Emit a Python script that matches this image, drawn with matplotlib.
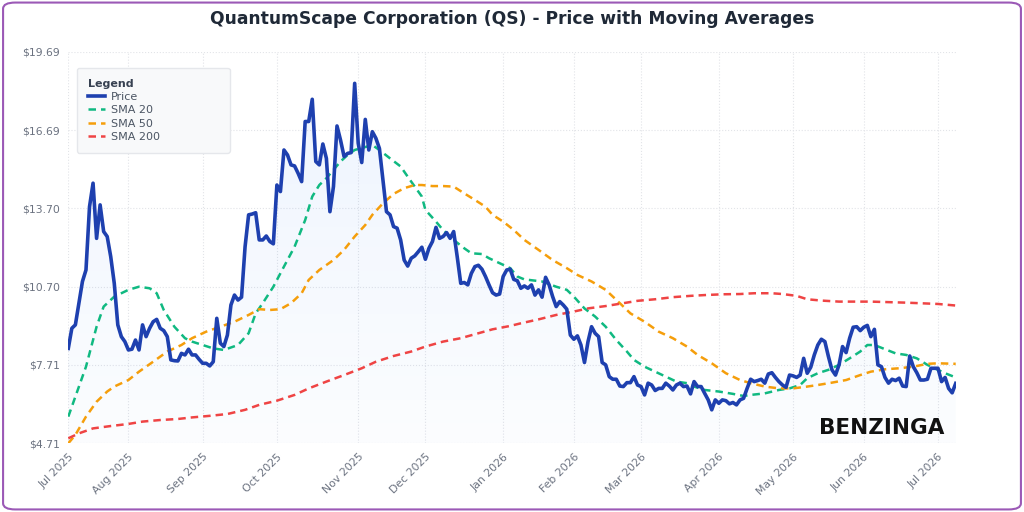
import numpy as np
import matplotlib.pyplot as plt
from matplotlib.patches import FancyBboxPatch

# trading-day index 0..251 (Jul 2025 - Jul 2026)
month_labels = ['Jul 2025', 'Aug 2025', 'Sep 2025', 'Oct 2025', 'Nov 2025', 'Dec 2025',
                'Jan 2026', 'Feb 2026', 'Mar 2026', 'Apr 2026', 'May 2026', 'Jun 2026', 'Jul 2026']
month_start_idx = [0, 17, 38, 59, 82, 101, 123, 143, 162, 184, 205, 225, 246]

price = [
    8.34, 9.11, 9.24, 10.07, 10.90, 11.34, 13.76, 14.66, 12.55, 13.83,
    12.81, 12.62, 11.85, 10.83, 9.24, 8.79, 8.60, 8.28, 8.31, 8.66,
    8.28, 9.24, 8.79, 9.11, 9.36, 9.45, 9.11, 9.02, 8.79, 7.90,
    7.87, 7.86, 8.15, 8.09, 8.31, 8.09, 8.09, 7.92, 7.77, 7.77,
    7.67, 7.83, 9.49, 8.54, 8.41, 8.85, 10.00, 10.38, 10.19, 10.30,
    12.23, 13.45, 13.48, 13.53, 12.49, 12.49, 12.64, 12.43, 12.34, 14.59,
    14.34, 15.93, 15.74, 15.36, 15.32, 15.04, 14.72, 17.02, 17.02, 17.87,
    15.49, 15.36, 16.16, 15.61, 13.57, 14.53, 16.85, 16.31, 15.68, 15.80,
    15.83, 18.48, 16.19, 15.45, 17.10, 15.93, 16.63, 16.38, 15.99, 14.78,
    13.57, 13.45, 13.00, 12.94, 12.49, 11.72, 11.49, 11.79, 11.88, 12.04,
    12.21, 11.75, 12.17, 12.43, 12.97, 12.55, 12.62, 12.77, 12.55, 12.81,
    11.85, 10.83, 10.86, 10.77, 11.21, 11.47, 11.52, 11.37, 11.09, 10.77,
    10.47, 10.38, 10.42, 11.09, 11.34, 11.37, 10.98, 10.93, 10.64, 10.73,
    10.64, 10.77, 10.38, 10.58, 10.30, 11.06, 10.77, 10.32, 9.94, 10.13,
    10.00, 9.84, 8.85, 8.69, 8.82, 8.47, 7.80, 8.60, 9.17, 8.92,
    8.79, 7.80, 7.71, 7.26, 7.16, 7.16, 6.90, 6.88, 7.03, 7.03,
    7.26, 6.94, 6.88, 6.56, 7.01, 6.94, 6.73, 6.81, 6.81, 7.01,
    6.90, 6.75, 6.94, 7.01, 6.88, 6.90, 6.60, 7.07, 6.88, 6.88,
    6.62, 6.37, 5.99, 6.37, 6.24, 6.37, 6.34, 6.22, 6.27, 6.18,
    6.37, 6.43, 6.81, 7.16, 7.07, 7.11, 7.16, 7.01, 7.36, 7.41,
    7.23, 7.07, 6.94, 6.85, 7.32, 7.29, 7.23, 7.32, 7.96, 7.39,
    7.62, 8.09, 8.47, 8.69, 8.60, 8.03, 7.52, 7.32, 7.71, 8.41,
    8.18, 8.73, 9.15, 9.17, 9.02, 9.15, 9.22, 8.79, 9.07, 7.71,
    7.64, 7.23, 7.01, 7.16, 7.11, 7.20, 6.90, 6.88, 8.05, 7.64,
    7.41, 7.13, 7.13, 7.16, 7.58, 7.58, 7.58, 7.07, 7.23, 6.81,
    6.64, 7.00,
]

sma20_idx = [0, 5, 8, 10, 13, 17, 20, 23, 25, 27, 30, 33, 35, 38, 41, 44, 48, 51, 53, 55,
             58, 61, 64, 67, 69, 71, 73, 75, 77, 79, 81, 86, 88, 91, 94, 96, 100, 101, 104, 106,
             109, 112, 114, 117, 119, 122, 125, 127, 129, 134, 138, 141, 143, 146, 149, 152, 155, 158, 160, 163,
             166, 169, 172, 175, 177, 180, 184, 188, 191, 193, 197, 201, 204, 207, 209, 212, 215, 218, 221, 224,
             226, 228, 231, 234, 237, 240, 243, 245, 248, 251]
sma20_val = [5.73, 7.64, 9.17, 9.94, 10.32, 10.58, 10.70, 10.64, 10.45, 9.81, 9.17, 8.73, 8.60, 8.47, 8.34, 8.28, 8.47, 8.92, 9.68, 10.07,
             10.70, 11.47, 12.23, 13.25, 14.15, 14.59, 14.85, 15.17, 15.49, 15.74, 15.93, 16.12, 15.93, 15.61, 15.30, 14.91, 14.15, 13.64, 13.19, 12.87,
             12.49, 12.17, 11.98, 11.95, 11.79, 11.60, 11.41, 11.09, 10.98, 10.90, 10.70, 10.58, 10.32, 9.87, 9.56, 9.17, 8.66, 8.22, 7.90, 7.64,
             7.45, 7.26, 7.07, 7.01, 6.88, 6.75, 6.69, 6.60, 6.52, 6.56, 6.62, 6.75, 6.81, 6.94, 7.20, 7.39, 7.52, 7.71, 7.96, 8.22,
             8.47, 8.47, 8.31, 8.15, 8.09, 7.96, 7.71, 7.58, 7.39, 7.23]

sma50_idx = [0, 2, 5, 8, 11, 13, 17, 20, 24, 28, 32, 35, 39, 43, 47, 51, 54, 57, 60, 63,
             66, 68, 71, 75, 78, 81, 84, 86, 89, 92, 95, 98, 100, 103, 106, 109, 112, 115, 118, 120,
             123, 126, 129, 133, 137, 141, 144, 148, 152, 156, 159, 163, 167, 171, 175, 178, 182, 186, 190, 193,
             197, 201, 205, 209, 212, 216, 220, 224, 227, 231, 235, 239, 243, 246, 251]
sma50_val = [4.71, 5.03, 5.73, 6.30, 6.69, 6.88, 7.13, 7.45, 7.83, 8.22, 8.47, 8.73, 8.98, 9.17, 9.36, 9.62, 9.84, 9.81, 9.84, 10.07,
             10.45, 10.96, 11.34, 11.72, 12.11, 12.62, 13.06, 13.45, 13.89, 14.25, 14.47, 14.59, 14.59, 14.55, 14.55, 14.53, 14.27, 14.02, 13.76, 13.45,
             13.19, 12.87, 12.49, 12.11, 11.72, 11.41, 11.15, 10.90, 10.58, 10.07, 9.68, 9.36, 8.98, 8.73, 8.41, 8.09, 7.77, 7.39, 7.13, 7.01,
             6.88, 6.81, 6.81, 6.88, 6.94, 7.03, 7.13, 7.32, 7.45, 7.54, 7.58, 7.64, 7.75, 7.77, 7.75]

sma200_idx = [0, 3, 7, 12, 17, 21, 26, 31, 35, 40, 45, 50, 54, 59, 64, 68, 73, 78, 83, 87,
              92, 97, 101, 106, 111, 116, 120, 125, 128, 133, 138, 143, 147, 152, 157, 161, 166, 171, 176, 180,
              185, 190, 194, 199, 202, 206, 209, 213, 218, 227, 237, 246, 251]
sma200_val = [4.90, 5.09, 5.28, 5.37, 5.45, 5.54, 5.60, 5.64, 5.70, 5.76, 5.83, 5.99, 6.18, 6.34, 6.56, 6.81, 7.07, 7.32, 7.58, 7.83,
              8.05, 8.22, 8.41, 8.60, 8.73, 8.92, 9.07, 9.20, 9.30, 9.45, 9.62, 9.75, 9.87, 9.96, 10.07, 10.16, 10.22, 10.30, 10.35, 10.38,
              10.41, 10.42, 10.45, 10.45, 10.42, 10.35, 10.22, 10.17, 10.13, 10.13, 10.09, 10.04, 9.98]

y_min, y_max = 4.71, 19.69

fig = plt.figure(figsize=(10.24, 5.12), dpi=100)
fig.patch.set_facecolor('white')
ax = fig.add_axes([0.0667, 0.1342, 0.8666, 0.7648])

x = np.arange(len(price))

# gradient fill under the price line
poly = ax.fill_between(x, price, y_min, color='none', lw=0)
grad = np.zeros((100, 2, 4))
grad[..., 0] = 59 / 255
grad[..., 1] = 130 / 255
grad[..., 2] = 246 / 255
grad[..., 3] = np.linspace(0.02, 0.09, 100)[:, None]
img = ax.imshow(grad, extent=[0, len(price) - 1, y_min, y_max], aspect='auto',
                origin='lower', zorder=1)
img.set_clip_path(poly.get_paths()[0], transform=ax.transData)

ax.plot(x, price, color='#1e40af', lw=2.6, label='Price', zorder=5)
ax.plot(sma20_idx, sma20_val, color='#10b981', lw=1.8, ls=(0, (3, 2)), label='SMA 20', zorder=4)
ax.plot(sma50_idx, sma50_val, color='#f59e0b', lw=1.8, ls=(0, (3, 2)), label='SMA 50', zorder=4)
ax.plot(sma200_idx, sma200_val, color='#ef4444', lw=1.8, ls=(0, (3, 2)), label='SMA 200', zorder=4)

ax.set_xlim(0, len(price) - 1)
ax.set_ylim(y_min, y_max)
yt = np.linspace(y_min, y_max, 6)
ax.set_yticks(yt)
ax.set_yticklabels(['${:.2f}'.format(v) for v in yt])
ax.set_xticks(month_start_idx)
ax.set_xticklabels(month_labels, rotation=45, ha='right', rotation_mode='anchor')
ax.tick_params(length=0, labelsize=7.8, labelcolor='#6b7280', pad=6)

ax.grid(True, ls=':', lw=0.8, color='#e2e4e8')
ax.set_axisbelow(True)
for s in ax.spines.values():
    s.set_visible(False)

leg = ax.legend(loc='upper left', bbox_to_anchor=(0.0098, 0.958, 0.172, 0.0), mode='expand',
                title='Legend', fontsize=8,
                title_fontproperties={'weight': 'bold', 'size': 8}, frameon=True,
                facecolor='#f8f9fa', edgecolor='#e5e7eb', framealpha=1, borderpad=0.95,
                labelspacing=0.3, handlelength=1.6, handletextpad=0.5, borderaxespad=0)
leg._legend_box.align = 'left'
leg.get_title().set_color('#374151')
for t in leg.get_texts():
    t.set_color('#4b5563')

fig.text(0.5, 0.962, 'QuantumScape Corporation (QS) - Price with Moving Averages',
         ha='center', va='center', fontsize=12.3, fontweight='bold', color='#1f2937')

fig.text(0.8, 0.164, 'BENZINGA', ha='left', va='center', fontsize=15.5,
         fontweight='bold', color='#111111', zorder=10)

border = FancyBboxPatch((0.003, 0.005), 0.994, 0.99, boxstyle='round,pad=0,rounding_size=0.012',
                        transform=fig.transFigure, fill=False, ec='#9b59b6', lw=1.5)
fig.patches.append(border)

fig.savefig('out.png', dpi=100)
